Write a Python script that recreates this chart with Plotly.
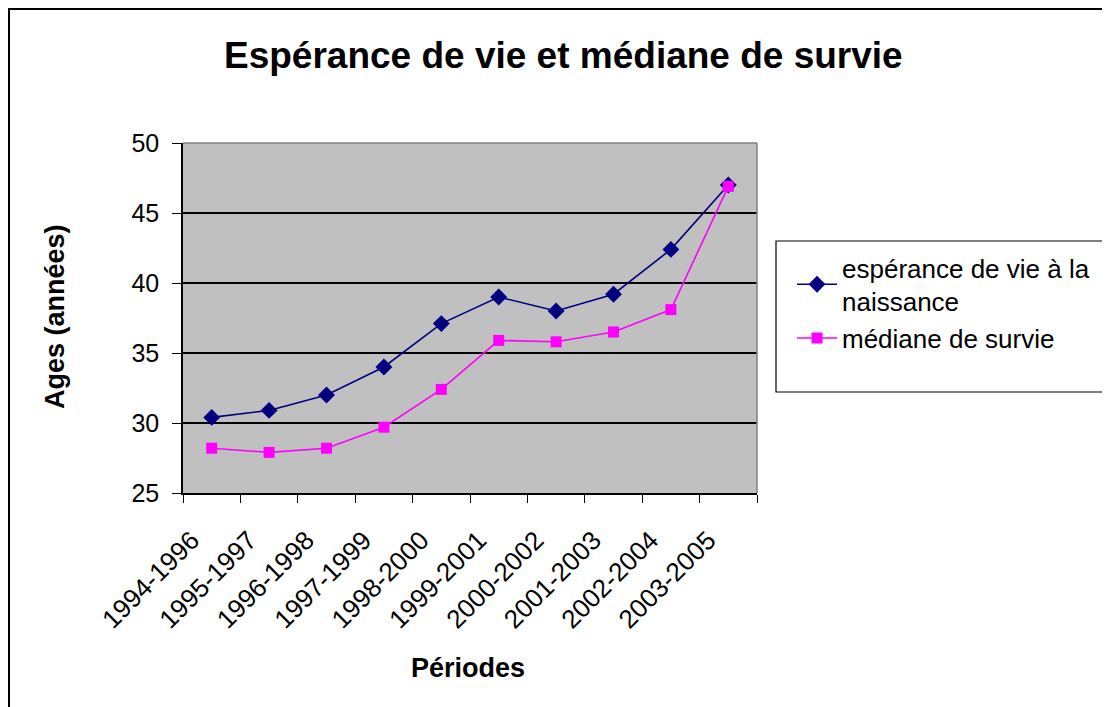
import plotly.graph_objects as go

periods = ["1994-1996", "1995-1997", "1996-1998", "1997-1999", "1998-2000",
           "1999-2001", "2000-2002", "2001-2003", "2002-2004", "2003-2005"]
esperance = [30.4, 30.9, 32.0, 34.0, 37.1, 39.0, 38.0, 39.2, 42.4, 47.0]
mediane = [28.2, 27.9, 28.2, 29.7, 32.4, 35.9, 35.8, 36.5, 38.1, 46.9]

# page body has an 8px default margin: work in reference pixels minus 8
OFF = 8
W, H = 1110 - OFF, 707 - OFF
L, R, T, B = 183 - OFF, 757 - OFF, 143 - OFF, 493 - OFF
pw, ph = R - L, B - T


def px(x):
    return (x - OFF - L) / pw


def py(y):
    return (B - (y - OFF)) / ph


FONT = "Liberation Sans, Arial, sans-serif"

fig = go.Figure()
fig.add_trace(go.Scatter(
    x=periods, y=esperance, mode="lines+markers",
    name="espérance de vie à la<br>naissance",
    line=dict(color="#000080", width=1.6),
    marker=dict(symbol="diamond", size=13, color="#000080"),
))
fig.add_trace(go.Scatter(
    x=periods, y=mediane, mode="lines+markers",
    name="médiane de survie",
    line=dict(color="#FF00FF", width=1.6),
    marker=dict(symbol="square", size=11, color="#FF00FF"),
))

fig.update_layout(
    width=W, height=H,
    margin=dict(l=L, r=W - R, t=T, b=H - B, autoexpand=False),
    paper_bgcolor="white",
    plot_bgcolor="#C0C0C0",
    font=dict(family=FONT, color="black"),
    showlegend=True,
    legend=dict(
        x=px(792), y=py(244), xanchor="left", yanchor="top",
        bgcolor="rgba(0,0,0,0)", borderwidth=0,
        font=dict(size=26, family=FONT),
        tracegroupgap=2, itemwidth=40,
    ),
    xaxis=dict(
        type="category", range=[-0.5, 9.5],
        showgrid=False, showline=True, linecolor="black", linewidth=1.5,
        ticks="outside", ticklen=8, tickcolor="black", tickwidth=1,
        tickson="boundaries",
        tickangle=-45, tickfont=dict(size=26, family=FONT),
        ticklabelstandoff=20, ticklabelshift=-20,
        mirror=False, zeroline=False,
    ),
    yaxis=dict(
        range=[25, 50], dtick=5, tick0=25,
        showgrid=True, gridcolor="black", gridwidth=1.5,
        showline=True, linecolor="black", linewidth=1.5,
        ticks="outside", ticklen=9, tickcolor="black",
        tickfont=dict(size=25, family=FONT),
        ticklabelstandoff=8,
        zeroline=False,
    ),
    shapes=[
        dict(type="line", xref="paper", yref="paper", x0=0, x1=1, y0=1, y1=1,
             line=dict(color="#808080", width=1.5)),
        dict(type="line", xref="paper", yref="paper", x0=1, x1=1, y0=0, y1=1,
             line=dict(color="#808080", width=1.5)),
        dict(type="rect", xref="paper", yref="paper",
             x0=px(776), x1=px(1130), y0=py(392), y1=py(241),
             line=dict(color="black", width=1.2), fillcolor="rgba(0,0,0,0)"),
        dict(type="rect", xref="paper", yref="paper",
             x0=px(9), x1=px(1140), y0=py(730), y1=py(9),
             line=dict(color="black", width=2), fillcolor="rgba(0,0,0,0)"),
    ],
    annotations=[
        dict(text="<b>Espérance de vie et médiane de survie</b>",
             xref="paper", yref="paper", x=px(563), y=py(56),
             xanchor="center", yanchor="middle", showarrow=False,
             font=dict(size=37, family=FONT)),
        dict(text="<b>Périodes</b>",
             xref="paper", yref="paper", x=px(468), y=py(668),
             xanchor="center", yanchor="middle", showarrow=False,
             font=dict(size=27, family=FONT)),
        dict(text="<b>Ages (années)</b>",
             xref="paper", yref="paper", x=px(55), y=py(317),
             xanchor="center", yanchor="middle", showarrow=False,
             textangle=-90, font=dict(size=27, family=FONT)),
    ],
)

fig.write_html("out.html")
